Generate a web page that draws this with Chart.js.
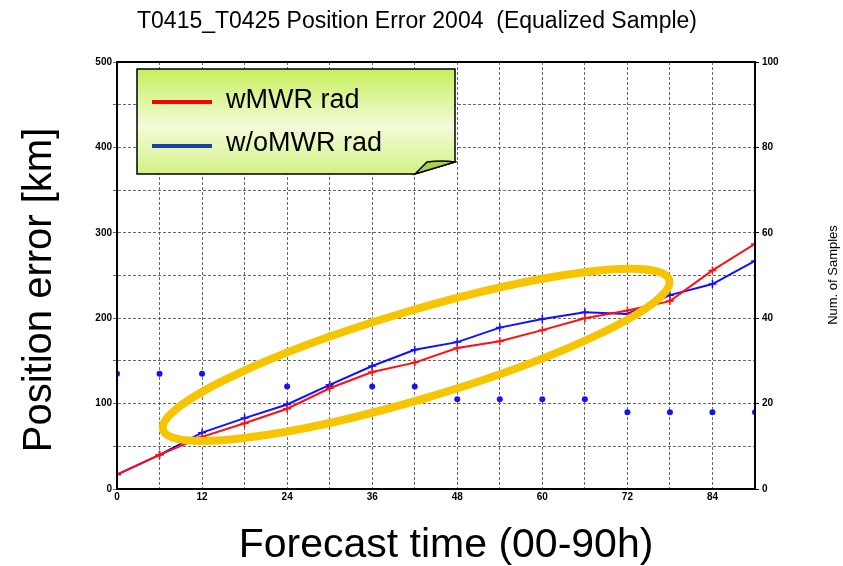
<!DOCTYPE html>
<html>
<head>
<meta charset="utf-8">
<script src="https://cdn.jsdelivr.net/npm/chart.js@4"></script>
<style>
  html, body { margin: 0; padding: 0; background: #fff; }
  #wrap { width: 843px; height: 566px; position: relative; }
</style>
</head>
<body>
<div id="wrap"><canvas id="myChart" width="843" height="566"></canvas></div>
<script>
// forecast hours
const hours = [0, 6, 12, 18, 24, 30, 36, 42, 48, 54, 60, 66, 72, 78, 84, 90];
// position error [km]
const wMWR  = [17, 40, 61, 77, 94, 118, 137, 148, 165, 173, 186, 200, 209, 220, 256, 287];
const woMWR = [17, 40, 66, 83, 99, 122, 144, 163, 172, 189, 199, 207, 205, 227, 240, 267];
// number of samples (right axis)
const samples = [27, 27, 27, null, 24, 24, 24, 24, 21, 21, 21, 21, 18, 18, 18, 18];

const xTicks = [0, 12, 24, 36, 48, 60, 72, 84];
const yTicks = [0, 100, 200, 300, 400, 500];
const y1Ticks = [0, 20, 40, 60, 80, 100];

const titleText = 'T0415_T0425 Position Error 2004  (Equalized Sample)';
const legendNames = ['wMWR rad', 'w/oMWR rad'];

const toXY = arr => hours.map((h, i) => ({ x: h, y: arr[i] }));

const tickFont = { family: 'Liberation Sans', size: 10, weight: 'bold' };

const deco = {
  id: 'deco',
  afterDatasetsDraw(chart) {
    const ctx = chart.ctx;
    const xs = chart.scales.x, ys = chart.scales.y;
    // yellow ellipse highlighting the 12-72h region
    const cx = xs.getPixelForValue(42.2), cy = ys.getPixelForValue(157);
    ctx.save();
    ctx.strokeStyle = '#f7c400';
    ctx.lineWidth = 8;
    ctx.beginPath();
    ctx.ellipse(cx, cy, 264, 44, -16.5 * Math.PI / 180, 0, Math.PI * 2);
    ctx.stroke();
    ctx.restore();
  },
  afterDraw(chart) {
    const ctx = chart.ctx;
    const a = chart.chartArea;
    ctx.save();
    // thick frame
    ctx.strokeStyle = '#000';
    ctx.lineWidth = 2;
    ctx.strokeRect(a.left, a.top, a.right - a.left, a.bottom - a.top);

    // legend note box with folded corner
    const L = 137, T = 69, R = 455, B = 174, f = 40;
    const g = ctx.createLinearGradient(0, T, 0, B);
    g.addColorStop(0, '#c6ef5c');
    g.addColorStop(0.55, '#f3fbd8');
    g.addColorStop(1, '#d2f185');
    ctx.fillStyle = g;
    ctx.beginPath();
    ctx.moveTo(L, T); ctx.lineTo(R, T); ctx.lineTo(R, B - 12);
    ctx.lineTo(R - f, B); ctx.lineTo(L, B); ctx.closePath();
    ctx.fill();
    ctx.strokeStyle = '#000'; ctx.lineWidth = 1.5;
    ctx.stroke();
    // fold
    ctx.fillStyle = '#a9d24a';
    ctx.beginPath();
    ctx.moveTo(R - f, B); ctx.lineTo(R - f + 12, B - 12);
    ctx.quadraticCurveTo(R - 14, B - 14, R, B - 12);
    ctx.closePath();
    ctx.fill(); ctx.stroke();

    ctx.lineWidth = 4;
    ctx.strokeStyle = '#ff0000';
    ctx.beginPath(); ctx.moveTo(152, 102); ctx.lineTo(212, 102); ctx.stroke();
    ctx.strokeStyle = '#1c3fa8';
    ctx.beginPath(); ctx.moveTo(152, 146); ctx.lineTo(212, 146); ctx.stroke();
    ctx.fillStyle = '#000';
    ctx.font = '27px "Liberation Sans"';
    ctx.textBaseline = 'middle';
    ctx.textAlign = 'left';
    ctx.fillText(legendNames[0], 226, 101);
    ctx.fillText(legendNames[1], 226, 144);

    // title
    ctx.textBaseline = 'alphabetic';
    ctx.font = '23px "Liberation Sans"';
    ctx.fillText(titleText, 137, 28);

    // axis titles
    ctx.font = '41px "Liberation Sans"';
    ctx.textAlign = 'center';
    ctx.fillText('Forecast time (00-90h)', 446, 557);
    ctx.save();
    ctx.translate(51, 290);
    ctx.rotate(-Math.PI / 2);
    ctx.font = '40px "Liberation Sans"';
    ctx.fillText('Position error [km]', 0, 0);
    ctx.restore();
    ctx.save();
    ctx.translate(833, 275);
    ctx.rotate(-Math.PI / 2);
    ctx.textBaseline = 'middle';
    ctx.font = '13px "Liberation Sans"';
    ctx.fillText('Num. of Samples', 0, 0);
    ctx.restore();
    ctx.restore();
  }
};

const ctx = document.getElementById('myChart');
const myChart = new Chart(ctx, {
  type: 'line',
  data: {
    datasets: [
      {
        label: legendNames[0],
        data: toXY(wMWR),
        borderColor: '#ff1010',
        backgroundColor: '#ff1010',
        borderWidth: 2,
        pointStyle: 'cross',
        pointRadius: 4,
        pointBorderWidth: 1.5,
        yAxisID: 'y'
      },
      {
        label: legendNames[1],
        data: toXY(woMWR),
        borderColor: '#1010ff',
        backgroundColor: '#1010ff',
        borderWidth: 2,
        pointStyle: 'cross',
        pointRadius: 4,
        pointBorderWidth: 1.5,
        yAxisID: 'y'
      },
      {
        label: 'Num. of Samples',
        data: toXY(samples),
        showLine: false,
        pointStyle: 'circle',
        pointRadius: 3,
        borderWidth: 0,
        backgroundColor: '#1515ee',
        yAxisID: 'y1'
      }
    ]
  },
  options: {
    responsive: false,
    animation: false,
    events: [],
    layout: { padding: { top: 62, left: 0, right: 0, bottom: 0 } },
    plugins: { legend: { display: false }, title: { display: false }, tooltip: { enabled: false } },
    scales: {
      x: {
        type: 'linear', min: 0, max: 90,
        afterBuildTicks: s => { s.ticks = hours.map(v => ({ value: v })); },
        afterFit: s => { s.height = 77; },
        ticks: {
          font: tickFont, color: '#000', padding: 2, maxRotation: 0,
          autoSkip: false,
          callback: v => xTicks.includes(v) ? String(v) : ''
        },
        grid: { color: '#444', lineWidth: 0.8, drawTicks: false },
        border: { display: true, color: '#000', width: 2, dash: [3, 2] }
      },
      y: {
        position: 'left', min: 0, max: 500,
        afterBuildTicks: s => { s.ticks = [0,50,100,150,200,250,300,350,400,450,500].map(v => ({ value: v })); },
        afterFit: s => { s.width = 117; },
        ticks: {
          font: tickFont, color: '#000', padding: 1,
          callback: v => yTicks.includes(v) ? String(v) : ''
        },
        grid: { color: '#444', lineWidth: 0.8, tickLength: 4 },
        border: { display: true, color: '#000', width: 2, dash: [3, 2] }
      },
      y1: {
        position: 'right', min: 0, max: 100,
        afterBuildTicks: s => { s.ticks = y1Ticks.map(v => ({ value: v })); },
        afterFit: s => { s.width = 88; },
        ticks: { font: tickFont, color: '#000', padding: 3 },
        grid: { drawOnChartArea: false, color: '#000', tickLength: 4 },
        border: { display: true, color: '#000', width: 2 }
      }
    }
  },
  plugins: [deco]
});
</script>
</body>
</html>
